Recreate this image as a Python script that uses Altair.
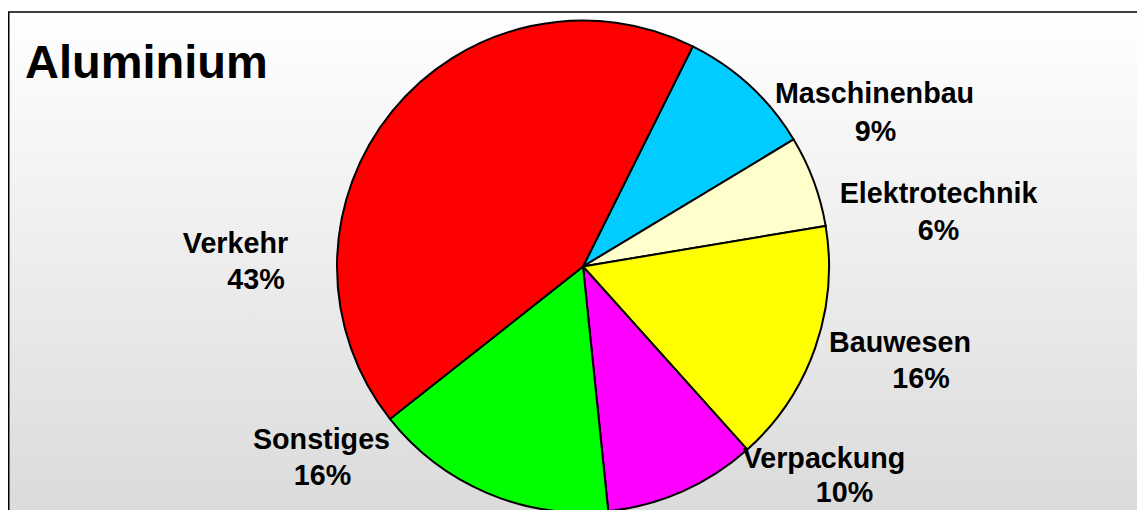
import math
import altair as alt
import pandas as pd

# ---- data ----
categories = ["Maschinenbau", "Elektrotechnik", "Bauwesen", "Verpackung", "Sonstiges", "Verkehr"]
shares = [9, 6, 16, 10, 16, 43]
pct_labels = ["9%", "6%", "16%", "10%", "16%", "43%"]
slice_colors = ["#00ccff", "#ffffcc", "#ffff00", "#ff00ff", "#00ff00", "#ff0000"]
title_text = "Aluminium"

# ---- layout (label anchors, chart pixels) ----
name_x = [866.5, 930.5, 892, 816, 313.5, 227.5]
name_y = [95.3, 194.7, 344.3, 460, 441.3, 245.3]
pct_x = [867.5, 930.5, 913, 836.5, 314.5, 248]
pct_y = [132.7, 232, 380.3, 494, 477, 281.3]

W, H = 1129, 502
CX, CY, R = 575, 258.5, 246
START = math.radians(26.5)

df = pd.DataFrame({
    "cat": categories,
    "share": shares,
    "order": list(range(len(categories))),
})
lab = pd.DataFrame({
    "cat": categories,
    "pct": pct_labels,
    "nx": name_x, "ny": name_y,
    "px": pct_x, "py": pct_y,
})

grad = alt.LinearGradient(
    gradient="linear",
    stops=[alt.GradientStop(offset=0, color="#ffffff"),
           alt.GradientStop(offset=1, color="#dadada")],
    x1=0, x2=0, y1=0, y2=1,
)

bg = alt.Chart(pd.DataFrame({"a": [0]})).mark_rect(
    fill=grad, stroke="black", strokeWidth=1.5
).encode(
    x=alt.value(0.75), x2=alt.value(1160), y=alt.value(4), y2=alt.value(514)
)

pie = alt.Chart(df).mark_arc(
    outerRadius=R, stroke="black", strokeWidth=2
).encode(
    theta=alt.Theta("share:Q", stack=True,
                    scale=alt.Scale(range=[START, START + 2 * math.pi])),
    color=alt.Color("cat:N", scale=alt.Scale(domain=categories, range=slice_colors), legend=None),
    order=alt.Order("order:Q"),
    x=alt.value(CX),
    y=alt.value(CY),
)

txt_style = dict(font="Liberation Sans", fontWeight="bold", fontSize=28.7,
                 align="center", baseline="alphabetic", color="black")

names = alt.Chart(lab).mark_text(**txt_style).encode(
    x=alt.X("nx:Q", scale=None, axis=None),
    y=alt.Y("ny:Q", scale=None, axis=None),
    text="cat:N",
)
pcts = alt.Chart(lab).mark_text(**txt_style).encode(
    x=alt.X("px:Q", scale=None, axis=None),
    y=alt.Y("py:Q", scale=None, axis=None),
    text="pct:N",
)

title = alt.Chart(pd.DataFrame({"t": [title_text]})).mark_text(
    font="Liberation Sans", fontWeight="bold", fontSize=47,
    align="left", baseline="alphabetic", color="black"
).encode(x=alt.value(17), y=alt.value(70), text="t:N")

chart = alt.layer(bg, pie, names, pcts, title).properties(
    width=W, height=H, padding=0, autosize="none"
).configure_view(stroke=None)

chart.save("out.html", embed_options={"renderer": "svg", "actions": False})
